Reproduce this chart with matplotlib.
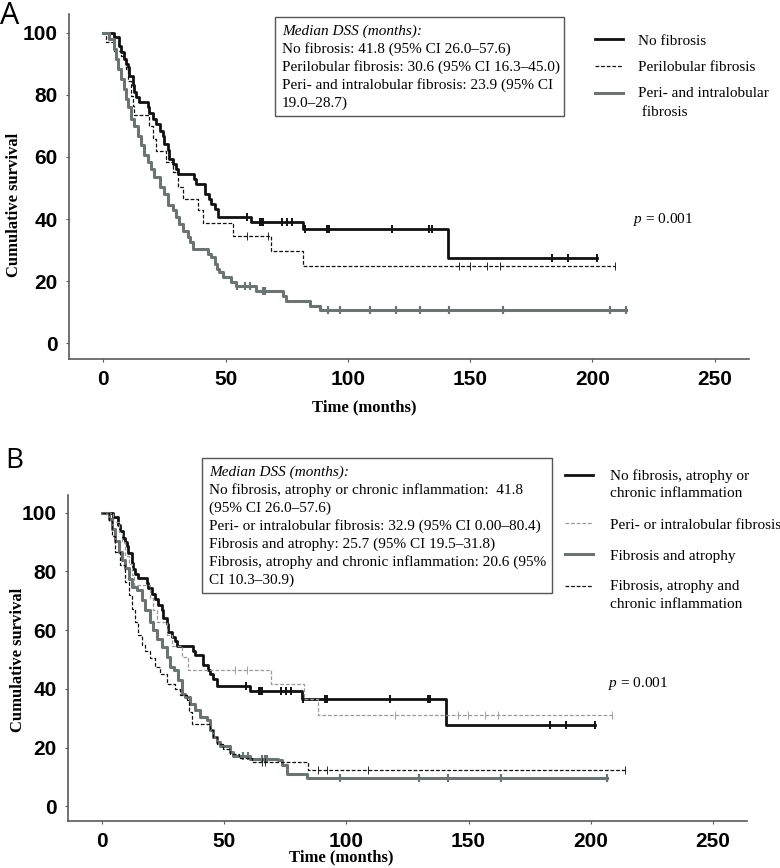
import matplotlib
matplotlib.use("Agg")
import matplotlib.pyplot as plt
from matplotlib.patches import Rectangle
from matplotlib.legend_handler import HandlerLine2D
import numpy as np

plt.rcParams['font.family'] = ['Liberation Serif', 'DejaVu Serif']
plt.rcParams['mathtext.fontset'] = 'custom'
plt.rcParams['mathtext.it'] = 'Liberation Serif:italic'
plt.rcParams['mathtext.rm'] = 'Liberation Serif'

# ---- panel A / B shared curve: no fibrosis (months, % survival)
nofib_t = [0, 4.5, 6.6, 7.2, 8.6, 9.3, 10.0, 10.7, 12.0, 12.7, 13.4, 14.8, 18.2, 18.9,
           20.2, 21.6, 23.0, 24.3, 25.0, 26.4, 27.0, 28.4, 29.8, 30.5, 37.3, 38.0, 41.4,
           43.4, 44.1, 45.5, 46.9, 60.5, 81.7, 140.8]
nofib_s = [100, 98.5, 95.8, 93.7, 91.5, 89.9, 88.8, 86.2, 83.0, 80.8, 79.2, 77.6, 76.0, 74.2,
           72.3, 70.6, 68.5, 66.9, 64.2, 62.1, 59.4, 57.8, 56.2, 54.6, 53.0, 51.4, 48.1,
           46.5, 44.9, 43.3, 40.8, 39.2, 36.7, 27.6]
nofib_end = 201.9
nofib_cens = [58.9, 64.0, 64.6, 65.3, 73.2, 75.1, 77.2, 82.3, 91.3, 92.2, 117.9, 133.3,
              134.3, 183.5, 189.9, 201.9]

# ---- panel A: perilobular fibrosis
peri_t = [0, 1.1, 4.5, 7.2, 8.6, 9.3, 10.0, 11.3, 12.0, 12.4, 18.9, 20.2, 21.6, 25.7,
          28.4, 30.5, 32.5, 38.7, 40.7, 53.0, 68.7, 81.7]
peri_s = [100, 96.9, 94.2, 92.6, 91.5, 88.3, 84.6, 79.7, 76.5, 73.5, 70.1, 65.8, 62.0, 58.3,
          55.1, 50.3, 46.5, 42.8, 38.7, 34.7, 29.9, 24.9]
peri_end = 209.2
peri_cens = [58.9, 67.2, 145.5, 150.0, 156.8, 162.0, 209.2]

# ---- panel A: peri- and intralobular fibrosis
intra_t = [0, 2.5, 4.5, 5.2, 6.1, 7.2, 8.3, 9.3, 10.0, 11.3, 12.7, 14.1, 15.4, 16.8, 18.2,
           19.5, 20.9, 23.0, 25.0, 26.4, 28.4, 29.8, 31.1, 32.5, 34.6, 35.6, 36.6, 43.0,
           44.1, 45.5, 46.5, 47.5, 48.9, 52.3, 54.4, 62.6, 73.5, 74.9, 84.4, 88.5]
intra_s = [100, 98.0, 94.8, 91.5, 88.3, 85.1, 81.9, 78.7, 76.0, 72.3, 70.1, 66.9, 63.7, 60.5,
           58.3, 56.0, 53.5, 50.3, 48.1, 44.4, 42.8, 40.6, 38.5, 36.3, 34.2, 32.5, 30.4, 28.8,
           27.7, 25.6, 24.0, 22.9, 21.3, 19.7, 18.4, 17.0, 15.4, 13.8, 12.2, 10.8]
intra_end = 213.9
intra_cens = [54.6, 57.8, 59.8, 65.3, 66.0, 91.9, 96.7, 109.0, 119.7, 129.5, 141.5, 163.4,
              207.0, 213.9]

# ---- panel B: peri- or intralobular fibrosis
pori_t = [0, 4.6, 6.7, 8.1, 9.4, 10.8, 12.1, 13.2, 19.6, 21.0, 22.4, 26.5, 28.5, 32.6,
          35.3, 69.0, 82.6, 88.5]
pori_s = [100, 96.7, 93.3, 89.9, 85.4, 82.5, 78.6, 75.5, 70.8, 66.7, 62.7, 58.5, 54.5, 50.8,
          46.3, 41.5, 36.4, 31.0]
pori_end = 208.9
pori_cens = [54.4, 59.2, 119.8, 145.5, 149.8, 156.9, 162.1, 208.9]

# ---- panel B: fibrosis and atrophy
fa_t = [0, 2.6, 4.0, 5.3, 6.7, 8.0, 9.4, 10.8, 12.1, 14.2, 16.2, 17.6, 19.6, 21.0, 22.4,
        24.4, 26.5, 27.8, 29.2, 31.2, 32.6, 33.9, 36.0, 38.0, 40.1, 42.8, 44.2, 45.5, 46.9,
        48.3, 52.4, 53.7, 60.5, 72.1, 73.5, 75.5, 83.7]
fa_s = [100, 97.9, 94.5, 90.5, 86.5, 84.0, 81.0, 77.5, 74.6, 73.5, 70.1, 66.7, 62.7, 59.9,
        57.0, 54.2, 50.8, 47.4, 46.3, 42.9, 38.3, 37.2, 34.9, 32.7, 30.4, 29.3, 25.9, 23.6,
        21.9, 20.7, 18.5, 17.3, 16.2, 15.6, 13.9, 11.1, 9.8]
fa_end = 206.8
fa_cens = [57.7, 59.7, 65.3, 66.7, 67.4, 97.3, 129.7, 141.6, 163.2, 206.8]

# ---- panel B: fibrosis, atrophy and chronic inflammation
fac_t = [0, 2.6, 4.0, 5.3, 7.4, 9.4, 10.8, 12.1, 13.5, 14.8, 16.2, 17.6, 19.6, 21.5, 23.7,
         26.5, 29.9, 32.0, 34.6, 35.5, 36.7, 44.2, 45.5, 46.9, 49.5, 52.4, 56.0, 61.2, 84.4]
fac_s = [100, 97.3, 92.2, 86.5, 82.0, 76.3, 71.8, 67.2, 62.7, 58.2, 54.8, 53.0, 50.5, 47.5,
         45.1, 41.7, 40.0, 38.0, 36.1, 32.0, 28.1, 25.9, 23.5, 21.3, 19.5, 17.9, 16.5, 15.1,
         12.2]
fac_end = 213.9
fac_cens = [65.3, 66.5, 88.5, 91.9, 108.9, 213.9]

xticks = [0, 50, 100, 150, 200, 250]
yticks = [0, 20, 40, 60, 80, 100]

text_a = ["No fibrosis: 41.8 (95% CI 26.0\u201357.6)",
          "Perilobular fibrosis: 30.6 (95% CI 16.3\u201345.0)",
          "Peri- and intralobular fibrosis: 23.9 (95% CI",
          "19.0\u201328.7)"]
text_b = ["No fibrosis, atrophy or chronic inflammation:  41.8",
          "(95% CI 26.0\u201357.6)",
          "Peri- or intralobular fibrosis: 32.9 (95% CI 0.00\u201380.4)",
          "Fibrosis and atrophy: 25.7 (95% CI 19.5\u201331.8)",
          "Fibrosis, atrophy and chronic inflammation: 20.6 (95%",
          "CI 10.3\u201330.9)"]

BLACK = '#111111'
GREY = '#6c7473'
LGREY = '#9a9a9a'


class UpHandler(HandlerLine2D):
    # put the legend line next to the first line of a two-line label
    def __init__(self, dy, **kw):
        super().__init__(**kw)
        self.dy = dy

    def create_artists(self, legend, orig_handle, xdescent, ydescent, width, height,
                       fontsize, trans):
        return super().create_artists(legend, orig_handle, xdescent, ydescent - 2 * self.dy,
                                      width, height, fontsize, trans)


def km(ax, t, s, end, cens, label, **kw):
    tt = list(t) + [end]
    ss = list(s) + [s[-1]]
    ln, = ax.step(tt, ss, where='post', label=label, **kw)
    idx = np.searchsorted(t, cens, side='right') - 1
    cs = np.array(s)[idx]
    ax.plot(cens, cs, ls='none', marker='|', ms=6, mew=kw.get('lw', 1) * 0.7,
            color=kw.get('color'))
    return ln


def style(ax, xc, yc):
    ax.set_xlim(-14, 264)
    ax.set_ylim(-5, 106)
    ax.set_xticks(xticks)
    ax.set_yticks(yticks)
    for sp in ['top', 'right']:
        ax.spines[sp].set_visible(False)
    for sp in ['left', 'bottom']:
        ax.spines[sp].set_color('#5a5a5a')
        ax.spines[sp].set_linewidth(1.2)
    ax.tick_params(length=2, color='#5a5a5a', pad=6)
    for lab in ax.get_xticklabels() + ax.get_yticklabels():
        lab.set_family('Liberation Sans')
        lab.set_fontweight('bold')
        lab.set_fontsize(15)
    ax.set_xlabel('Time (months)', fontsize=12, fontweight='bold')
    ax.set_ylabel('Cumulative survival', fontsize=12, fontweight='bold')
    ax.xaxis.set_label_coords(*xc)
    ax.yaxis.set_label_coords(*yc)
    ax.xaxis.label.set_va('center')
    ax.yaxis.label.set_va('center')


fig = plt.figure(figsize=(7.8, 8.68), dpi=100)
W, H = 780.0, 868.0

# ---------------- Panel A
axA = fig.add_axes([69 / W, 1 - 359 / H, 680 / W, 345 / H])
a1 = km(axA, nofib_t, nofib_s, nofib_end, nofib_cens, 'No fibrosis', color=BLACK, lw=2.0)
a2 = km(axA, peri_t, peri_s, peri_end, peri_cens, 'Perilobular fibrosis', color=BLACK, lw=0.9,
        dashes=(3, 1.5))
a3 = km(axA, intra_t, intra_s, intra_end, intra_cens, 'Peri- and intralobular\n fibrosis',
        color=GREY, lw=2.2)
style(axA, (0.434, -0.139), (-0.081, 0.446))
legA = axA.legend(handles=[a1, a2, a3], loc='upper left', bbox_to_anchor=(595 / W, 1 - 34 / H),
                  bbox_transform=fig.transFigure, frameon=False, fontsize=11,
                  handlelength=1.85, handletextpad=0.95, borderpad=0, borderaxespad=0,
                  labelspacing=0.85, handler_map={a3: UpHandler(7.0)})
for t in legA.get_texts():
    t.set_linespacing(1.55)
axA.text(633 / W, 1 - 220 / H, r'$p$ = 0.001', transform=fig.transFigure, fontsize=11,
         va='center', ha='left')

fig.patches.append(Rectangle((275 / W, 1 - 116 / H), 289 / W, 99 / H, transform=fig.transFigure,
                             fill=False, ec='#555555', lw=1))
fig.text(282 / W, 1 - 31 / H, 'Median DSS (months):', style='italic', fontsize=11, va='center')
for i, line in enumerate(text_a):
    fig.text(282 / W, 1 - (49 + 18 * i) / H, line, fontsize=11, va='center')

fig.text(0.0, 1 - 1 / H, 'A', family='Open Sans', fontsize=22, va='top', ha='left')

# ---------------- Panel B
axB = fig.add_axes([68 / W, 1 - 821 / H, 679 / W, 326 / H])
b1 = km(axB, nofib_t, nofib_s, nofib_end, nofib_cens, 'No fibrosis, atrophy or\nchronic inflammation',
        color=BLACK, lw=2.0)
b2 = km(axB, pori_t, pori_s, pori_end, pori_cens, 'Peri- or intralobular fibrosis', color=LGREY,
        lw=0.9, dashes=(3, 1.5))
b3 = km(axB, fa_t, fa_s, fa_end, fa_cens, 'Fibrosis and atrophy', color=GREY, lw=2.2)
b4 = km(axB, fac_t, fac_s, fac_end, fac_cens, 'Fibrosis, atrophy and\nchronic inflammation',
        color=BLACK, lw=0.9, dashes=(3, 1.5))
style(axB, (0.402, -0.113), (-0.074, 0.494))
legB = axB.legend(handles=[b1, b2, b3, b4], loc='upper left',
                  bbox_to_anchor=(565 / W, 1 - 469 / H), bbox_transform=fig.transFigure,
                  frameon=False, fontsize=11, handlelength=1.85, handletextpad=1.1,
                  borderpad=0, borderaxespad=0, labelspacing=1.15,
                  handler_map={b1: UpHandler(6.6), b4: UpHandler(6.6)})
for t in legB.get_texts():
    t.set_linespacing(1.45)
axB.text(608 / W, 1 - 684 / H, r'$p$ = 0.001', transform=fig.transFigure, fontsize=11,
         va='center', ha='left')

fig.patches.append(Rectangle((202 / W, 1 - 593 / H), 350 / W, 135 / H, transform=fig.transFigure,
                             fill=False, ec='#555555', lw=1))
fig.text(209 / W, 1 - 472 / H, 'Median DSS (months):', style='italic', fontsize=11, va='center')
for i, line in enumerate(text_b):
    fig.text(209 / W, 1 - (490 + 18 * i) / H, line, fontsize=11, va='center')

fig.text(5 / W, 1 - 447 / H, 'B', family='Open Sans', fontsize=20, va='top', ha='left')

fig.savefig('out.png', dpi=100)
